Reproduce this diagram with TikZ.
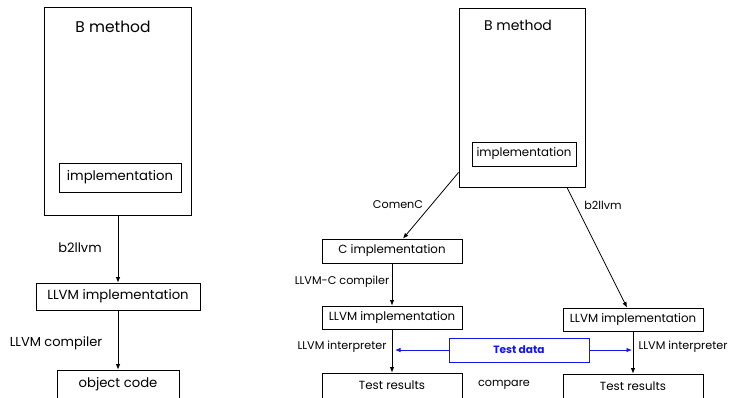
\documentclass[tikz,border=0pt]{standalone}
\usepackage{fontspec}
\setmainfont{Poppins}
\usetikzlibrary{arrows.meta}
\definecolor{datacol}{RGB}{20,20,235}

\begin{document}
\begin{tikzpicture}[
    x=1pt, y=1pt,
    outer/.style={draw, line width=0.9pt, inner sep=0pt},
    cellL/.style={draw, line width=0.8pt, font=\fontsize{13.2}{15}\selectfont, inner sep=0pt},
    cellR/.style={draw, line width=0.8pt, font=\fontsize{11.8}{14}\selectfont, inner sep=0pt, minimum width=140pt},
    lblL/.style={font=\fontsize{13}{15}\selectfont},
    lblR/.style={font=\fontsize{11.2}{13}\selectfont},
    arr/.style={-{Latex[length=5.5pt,width=4.5pt]}, line width=0.8pt},
]
\useasboundingbox (0,0) rectangle (729,-397);

\node[outer, minimum width=147pt, minimum height=208pt] (bm1) at (118,-111) {};
\node[font=\fontsize{15.5}{18}\selectfont] (bm1t) at (113,-27) {B method};
\node[cellL, minimum width=122pt, minimum height=29pt] (impl1) at (120,-177.5) {implementation};
\node[cellL, minimum width=164pt, minimum height=27pt] (llvm1) at (118,-296.5) {LLVM implementation};
\node[cellL, minimum width=122pt, minimum height=28pt] (obj1) at (118,-384) {object code};
\draw[arr] (bm1.south) -- (llvm1.north);
\draw[arr] (llvm1.south) -- (obj1.north);
\node[lblL] (l1) at (80,-248) {b2llvm};
\node[lblL] (l2) at (56,-343) {LLVM compiler};

\node[outer, minimum width=126pt, minimum height=179pt] (bm2) at (522,-97.5) {};
\node[font=\fontsize{14}{16}\selectfont] (bm2t) at (518,-25) {B method};
\node[cellR, minimum width=104pt, minimum height=24pt] (impl2) at (524,-154) {implementation};
\node[cellR, minimum height=24pt] (cimp) at (392,-251) {C implementation};
\node[cellR, minimum height=23pt] (llvm2) at (392,-317.5) {LLVM implementation};
\node[cellR, minimum height=25pt] (res1) at (392,-385.5) {Test results};
\node[cellR, minimum height=23pt] (llvm3) at (633,-319.5) {LLVM implementation};
\node[cellR, minimum height=24pt] (res2) at (633,-386) {Test results};
\node[cellR, draw=datacol, text=datacol, font=\fontsize{10.6}{12}\selectfont\bfseries, minimum height=24pt] (tdata) at (519,-350) {Test data};
\coordinate (tl) at (395,-350);
\coordinate (tr) at (632,-350);

\draw[arr] ([yshift=15pt]bm2.south west) -- ([xshift=11pt]cimp.north);
\draw[arr] ([xshift=45pt]bm2.south) -- ([xshift=-6pt]llvm3.north);
\draw[arr] (cimp.south) -- (llvm2.north);
\draw[arr] (llvm2.south) -- (res1.north);
\draw[arr] (llvm3.south) -- (res2.north);
\draw[arr, draw=datacol] (tdata.west) -- (tl);
\draw[arr, draw=datacol] (tdata.east) -- (tr);

\node[lblR] (l3) at (398,-205) {ComenC};
\node[lblR] (l4) at (603,-205) {b2llvm};
\node[lblR] (l5) at (342,-282) {LLVM-C compiler};
\node[lblR] (l6) at (342,-347) {LLVM interpreter};
\node[lblR] (l7) at (683,-347) {LLVM interpreter};
\node[lblR] (l8) at (504,-385) {compare};
\end{tikzpicture}
\end{document}
